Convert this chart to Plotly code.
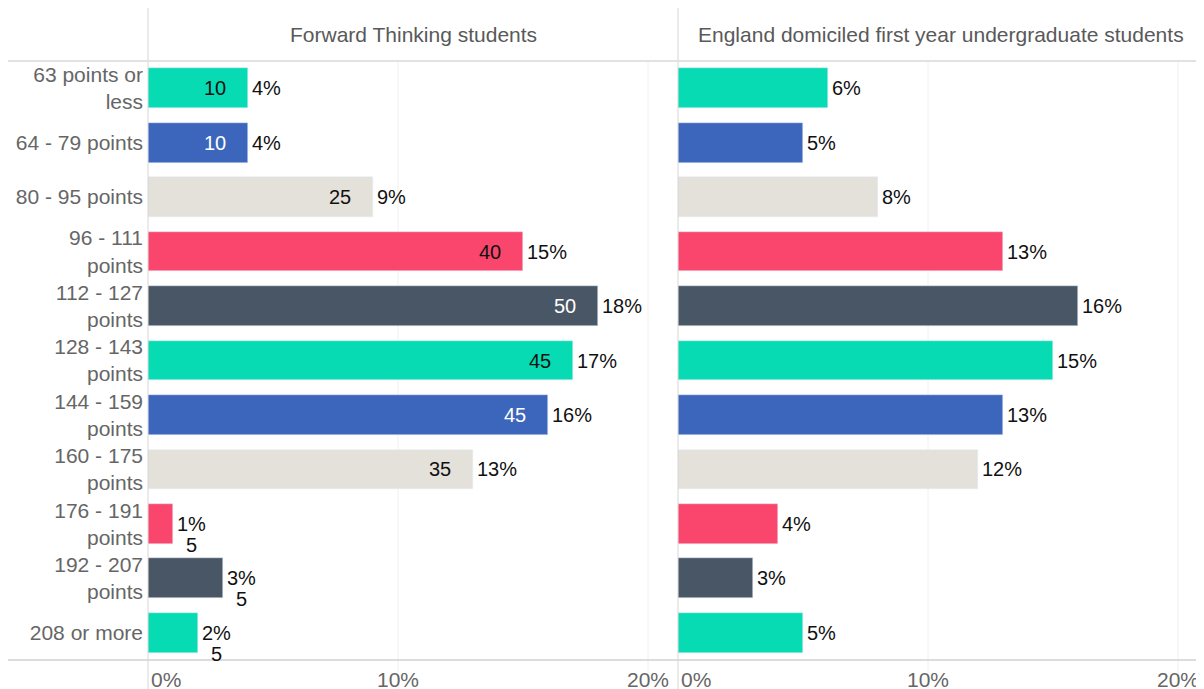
import plotly.graph_objects as go

BANDS = [
    "63 points or<br>less", "64 - 79 points", "80 - 95 points", "96 - 111<br>points",
    "112 - 127<br>points", "128 - 143<br>points", "144 - 159<br>points", "160 - 175<br>points",
    "176 - 191<br>points", "192 - 207<br>points", "208 or more",
]
FT_PCT = [4, 4, 9, 15, 18, 17, 16, 13, 1, 3, 2]
FT_COUNT = [10, 10, 25, 40, 50, 45, 45, 35, 5, 5, 5]
ENG_PCT = [6, 5, 8, 13, 16, 15, 13, 12, 4, 3, 5]
PANEL_TITLES = ["Forward Thinking students", "England domiciled first year undergraduate students"]
TICKS = [0, 10, 20]

FONT = "Liberation Sans, Arial, sans-serif"
GREY_TEXT = "#666666"
# palette cycles down the rows; second value is the colour of a count label sitting inside the bar
PALETTE = [
    ("#06DBB4", "#111111"),
    ("#3C66BB", "#FFFFFF"),
    ("#E3E1DA", "#111111"),
    ("#FA456C", "#111111"),
    ("#485665", "#FFFFFF"),
]

# the page body adds an 8px margin, so the figure is 8px smaller than the window
W, H = 1196, 681
L, T, B = 140, 53, 29
plot_w = W - L
plot_h = H - T - B
PX_PER_PCT = 25
left_w = 530
split = left_w / plot_w

bar_colors = [PALETTE[i % len(PALETTE)][0] for i in range(len(BANDS))]
inner_colors = [PALETTE[i % len(PALETTE)][1] for i in range(len(BANDS))]

fig = go.Figure()
fig.add_trace(go.Bar(x=FT_PCT, y=BANDS, orientation="h", marker_color=bar_colors,
                     width=0.73, xaxis="x", yaxis="y", hoverinfo="x+y"))
fig.add_trace(go.Bar(x=ENG_PCT, y=BANDS, orientation="h", marker_color=bar_colors,
                     width=0.73, xaxis="x2", yaxis="y", hoverinfo="x+y"))

ann = []
label_font = dict(family=FONT, size=20, color="#111111")
for band, pct, cnt, tc in zip(BANDS, FT_PCT, FT_COUNT, inner_colors):
    ann.append(dict(x=pct, y=band, xref="x", yref="y", text=f"{pct}%", showarrow=False,
                    xanchor="left", xshift=2, font=label_font))
    if pct >= 4:
        ann.append(dict(x=pct, y=band, xref="x", yref="y", text=str(cnt), showarrow=False,
                        xanchor="right", xshift=-20, font=dict(family=FONT, size=20, color=tc)))
    else:
        ann.append(dict(x=pct, y=band, xref="x", yref="y", text=str(cnt), showarrow=False,
                        xanchor="left", xshift=11, yshift=-21, font=label_font))
for band, pct in zip(BANDS, ENG_PCT):
    ann.append(dict(x=pct, y=band, xref="x2", yref="y", text=f"{pct}%", showarrow=False,
                    xanchor="left", xshift=2, font=label_font))

# panel headers
for title, (x0, x1) in zip(PANEL_TITLES, [(0, split), (split, 1)]):
    ann.append(dict(x=(x0 + x1) / 2, y=1, xref="paper", yref="paper", text=title,
                    showarrow=False, xanchor="center", yanchor="middle", yshift=27,
                    font=dict(family=FONT, size=21, color="#595959")))

# tick labels, Tableau style (first one pushed right of the axis)
for xr in ["x", "x2"]:
    for t in TICKS:
        ann.append(dict(x=t, y=0, xref=xr, yref="paper", text=f"{t}%", showarrow=False,
                        xanchor="left" if t == 0 else "center", xshift=1 if t == 0 else 0,
                        yanchor="middle", yshift=-19,
                        font=dict(family=FONT, size=21, color=GREY_TEXT)))

top_y = (H - B) / plot_h
bot_y = -B / plot_h
left_x = -L / plot_w
shapes = []
for xr in ["x", "x2"]:
    for t in TICKS[1:]:
        shapes.append(dict(type="line", xref=xr, yref="paper", x0=t, x1=t, y0=bot_y, y1=1,
                           line=dict(color="#F0F0F0", width=1), layer="below"))
for xp in [0, split]:
    shapes.append(dict(type="line", xref="paper", yref="paper", x0=xp, x1=xp, y0=bot_y, y1=top_y,
                       line=dict(color="#D6D6D6", width=1)))
shapes.append(dict(type="line", xref="paper", yref="paper", x0=left_x, x1=1, y0=1, y1=1,
                   line=dict(color="#E2E2E2", width=2)))
shapes.append(dict(type="line", xref="paper", yref="paper", x0=left_x, x1=1, y0=0, y1=0,
                   line=dict(color="#D0D0D0", width=1.5)))

fig.update_layout(
    width=W, height=H,
    margin=dict(l=L, r=0, t=T, b=B, pad=0),
    paper_bgcolor="white", plot_bgcolor="white",
    font=dict(family=FONT, size=21, color=GREY_TEXT),
    showlegend=False,
    bargap=0,
    xaxis=dict(domain=[0, split], range=[0, left_w / PX_PER_PCT], showgrid=False,
               zeroline=False, showticklabels=False, fixedrange=True),
    xaxis2=dict(domain=[split, 1], range=[0, (plot_w - left_w) / PX_PER_PCT], showgrid=False,
                zeroline=False, showticklabels=False, anchor="y", fixedrange=True),
    yaxis=dict(type="category", categoryorder="array", categoryarray=BANDS,
               autorange="reversed", showgrid=False, zeroline=False, ticks="",
               tickfont=dict(family=FONT, size=21, color=GREY_TEXT), ticklabelstandoff=4),
    annotations=ann,
    shapes=shapes,
)

fig.write_html("out.html")
